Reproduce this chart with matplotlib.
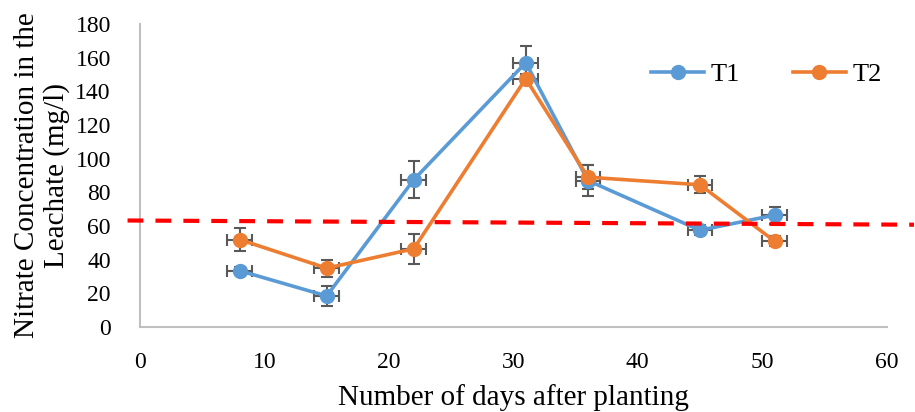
import matplotlib
matplotlib.use("Agg")
import matplotlib.pyplot as plt
from matplotlib.lines import Line2D

days = [8, 15, 22, 31, 36, 45, 51]
t1 = [33.5, 18.5, 87.5, 157, 87, 57.5, 66.5]
t2 = [52, 35, 46.5, 147.5, 89, 84.5, 51]
t1_err = [2, 6, 11, 10, 9, 3, 5]
t2_err = [7, 5, 9, 3, 7, 5, 3]
x_err = 1.0
limit_x = [-1.0, 62.2]
limit_y = [63.3, 60.8]

plt.rcParams['font.family'] = ['Liberation Serif', 'DejaVu Serif']

fig = plt.figure(figsize=(9.15, 4.12), dpi=100)
ax = fig.add_axes([0.153, 0.206, 0.816, 0.736])

c1 = '#5B9BD5'
c2 = '#ED7D31'
ecol = '#595959'

ax.errorbar(days, t1, yerr=t1_err, xerr=x_err, color=c1, lw=2.6, marker='o',
            markersize=10, ecolor=ecol, elinewidth=1.5, capsize=4, capthick=1.5,
            label='T1', zorder=3)
ax.errorbar(days, t2, yerr=t2_err, xerr=x_err, color=c2, lw=2.6, marker='o',
            markersize=10, ecolor=ecol, elinewidth=1.5, capsize=4, capthick=1.5,
            label='T2', zorder=3)

ax.plot(limit_x, limit_y, color='red', lw=3, linestyle=(0, (3.8, 2.9)),
        clip_on=False, zorder=4)

ax.set_xlim(0, 60)
ax.set_ylim(0, 180)
ax.set_xticks(range(0, 61, 10))
ax.set_yticks(range(0, 181, 20))
ax.tick_params(length=0, labelsize=17, colors='black')
ax.tick_params(axis='x', pad=18)
ax.tick_params(axis='y', pad=21)
for s in ['top', 'right']:
    ax.spines[s].set_visible(False)
for s in ['left', 'bottom']:
    ax.spines[s].set_color('#BFBFBF')
    ax.spines[s].set_linewidth(1.5)

ax.set_xlabel('Number of days after planting', fontsize=21, labelpad=8)
ax.set_ylabel('Nitrate Concentration in the\nLeachate (mg/l)', fontsize=21,
              labelpad=4, linespacing=1.15)

h = [Line2D([0], [0], color=c1, lw=2.6, marker='o', markersize=10),
     Line2D([0], [0], color=c2, lw=2.6, marker='o', markersize=10)]
ax.legend(h, ['T1', 'T2'], loc='upper right', bbox_to_anchor=(1.025, 0.95),
          ncol=2, frameon=False, fontsize=19, handlelength=2.0,
          columnspacing=2.0, handletextpad=0.25)

fig.savefig('out.png', dpi=100)
